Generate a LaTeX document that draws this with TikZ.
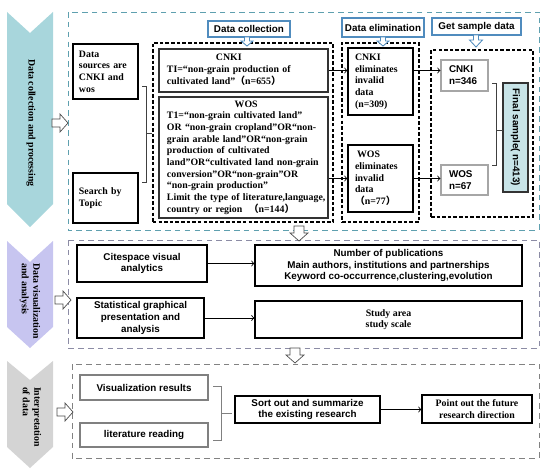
\documentclass[tikz,border=0pt]{standalone}
\usepackage{fontspec}
\setmainfont{Liberation Serif}
\setsansfont{Liberation Sans}
\newfontfamily\cjk{Noto Sans CJK SC}
\usepackage{tikz}
\definecolor{chevteal}{RGB}{168,214,220}
\definecolor{chevlav}{RGB}{199,197,240}
\definecolor{chevgray}{RGB}{212,212,212}
\definecolor{panteal}{RGB}{95,160,175}
\definecolor{panlav}{RGB}{140,140,165}
\definecolor{pangray}{RGB}{130,130,130}
\definecolor{hdblue}{RGB}{80,140,190}
\definecolor{finfill}{RGB}{200,228,232}
\tikzset{
    box/.style={draw, line width=0.8pt, inner sep=0pt, align=center,
        font=\sffamily\bfseries\fontsize{7}{8.4}\selectfont},
    sbox/.style={box, font=\bfseries\fontsize{7}{8.3}\selectfont},
    grp/.style={draw, line width=0.9pt, dash pattern=on 2.5pt off 1.5pt},
    hdbox/.style={draw=hdblue, line width=0.8pt, inner sep=0pt,
        font=\sffamily\bfseries\fontsize{7}{8.4}\selectfont},
    hollow/.style={draw=black!70, fill=white, line width=0.5pt},
    hdarrow/.style={draw=hdblue, fill=white, line width=0.6pt},
    link/.style={->, line width=0.6pt},
    brace/.style={line width=0.6pt, draw=black!75},
    stage/.style={rotate=-90, align=left, font=\bfseries\fontsize{7}{8.3}\selectfont},
}

\begin{document}
\begin{tikzpicture}[x=0.025cm, y=-0.025cm]
    \useasboundingbox (0,0) rectangle (550,472);
    % chevrons on the left
    \fill[chevteal] (7,12) -- (30,33) -- (53,12) -- (53,204) -- (30,227) -- (7,204) -- cycle;
    \fill[chevlav] (7,241) -- (30,262) -- (53,241) -- (53,327) -- (30,348) -- (7,327) -- cycle;
    \fill[chevgray] (7,361) -- (30,380) -- (53,361) -- (53,447) -- (30,468) -- (7,447) -- cycle;
    \node[stage] (stg1) at (31,123) {Data collection and processing};
    \node[stage] (stg2) at (30,301) {Data visualization\\and analysis};
    \node[stage] (stg3) at (32,417) {Interpretation\\of data};

    % panels
    \draw[panteal, line width=0.7pt, dash pattern=on 4pt off 3pt] (68,12) rectangle (539,230);
    \draw[panlav, line width=0.7pt, dash pattern=on 4pt off 3pt] (68,240) rectangle (539,348);
    \draw[pangray, line width=0.7pt, dash pattern=on 4pt off 3pt] (72,364) rectangle (539,458);

    % data collection and processing
    \node[sbox, align=left, minimum width=1.625cm, minimum height=1.375cm, text width=1.325cm,
        inner xsep=0.15cm] (src) at (105.5,71.5) {Data\\sources are\\CNKI and\\wos};
    \node[sbox, align=left, minimum width=1.625cm, minimum height=1.25cm, text width=1.325cm,
        inner xsep=0.15cm] (topic) at (105.5,198) {Search by\\Topic};
    \draw[brace] (142,86) -- (146,86) -- (146,182) -- (142,182) (146,133) -- (152,133);

    \node[grp, minimum width=4.5cm, minimum height=4.475cm] (colgrp) at (243,132.5) {};
    \node[sbox, draw=black!80, line width=1.1pt, align=left, minimum width=4.225cm,
        minimum height=1.075cm, text width=3.825cm, inner xsep=0.2cm] (cnki) at (243.5,70.5)
        {\begin{tabular}{@{}l@{}}\multicolumn{1}{@{}c@{}}{CNKI}\\
        TI=“non-grain production of\\
        cultivated land”{\cjk （}n=655{\cjk ）}\end{tabular}};
    \node[sbox, draw=black!80, line width=1.1pt, align=left, minimum width=4.225cm,
        minimum height=3.025cm, text width=3.825cm, inner xsep=0.2cm] (wos) at (243.5,157.5)
        {\begin{tabular}{@{}l@{}}\multicolumn{1}{@{}c@{}}{WOS}\\
        T1=“non-grain cultivated land”\\
        OR “non-grain cropland”OR“non-\\
        grain arable land”OR“non-grain\\
        production of cultivated\\
        land”OR“cultivated land non-grain\\
        conversion”OR“non-grain”OR\\
        “non-grain production”\\
        Limit the type of literature,language,\\
        country or region\ \ {\cjk （}n=144{\cjk ）}\end{tabular}};

    \node[grp, minimum width=1.925cm, minimum height=4.475cm] (elimgrp) at (380.5,132.5) {};
    \node[sbox, align=left, minimum width=1.625cm, minimum height=1.675cm, text width=1.275cm,
        inner xsep=0.175cm] (elimC) at (380.5,81.5) {CNKI\\eliminates\\invalid\\data\\(n=309)};
    \node[sbox, align=left, minimum width=1.625cm, minimum height=1.675cm, text width=1.275cm,
        inner xsep=0.175cm] (elimW) at (380.5,178.5)
        {\hspace{1.5pt}WOS\\eliminates\\invalid\\data\\{\cjk （}n=77{\cjk ）}};

    \node[grp, minimum width=2.55cm, minimum height=4.175cm] (sampgrp) at (482,133.5) {};
    \node[box, draw=black!35, align=left, minimum width=1.175cm, minimum height=0.775cm,
        text width=0.775cm, inner xsep=0.2cm] (sampC) at (464.5,75.5) {CNKI\\n=346};
    \node[box, draw=black!35, align=left, minimum width=1.175cm, minimum height=0.75cm,
        text width=0.775cm, inner xsep=0.2cm] (sampW) at (464.5,180) {WOS\\n=67};
    \node[box, fill=finfill, draw=black!80, rotate=-90, minimum width=2.725cm,
        minimum height=0.625cm] (final) at (515.5,137.5) {Final sample( n=413)};
    \draw[brace] (492,83) -- (496,83) -- (496,165) -- (492,165) (496,130) -- (503,130);

    \draw[link] (cnki.east) -- (cnki.east -| elimC.west);
    \draw[link] (cnki.east -| elimC.east) -- (cnki.east -| sampC.west);
    \draw[link] (elimW.west -| wos.east) -- (elimW.west);
    \draw[link] (elimW.east) -- (elimW.east -| sampW.west);

    % headers
    \node[hdbox, minimum width=2.05cm, minimum height=0.4cm] (hdcol) at (249,29) {Data collection};
    \node[hdbox, minimum width=2.05cm, minimum height=0.475cm] (hdelim) at (383,27.5) {Data elimination};
    \node[hdbox, minimum width=2.225cm, minimum height=0.425cm] (hdsamp) at (476.5,26.5) {Get sample data};
    \draw[hdarrow] (247,37) ++(-2.5,0) -- ++(0,4) -- ++(-3.5,0) -- ++(6,5) -- ++(6,-5) -- ++(-3.5,0) -- ++(0,-4) -- cycle;
    \draw[hdarrow] (383,37) ++(-2.5,0) -- ++(0,4) -- ++(-3.5,0) -- ++(6,5) -- ++(6,-5) -- ++(-3.5,0) -- ++(0,-4) -- cycle;
    \draw[hdarrow] (476,35) ++(-2.5,0) -- ++(0,5) -- ++(-4,0) -- ++(6.5,7) -- ++(6.5,-7) -- ++(-4,0) -- ++(0,-5) -- cycle;

    % data visualization and analysis
    \node[box, minimum width=3.25cm, minimum height=0.925cm] (cite) at (142,263.5) {Citespace visual\\analytics};
    \node[box, minimum width=3.175cm, minimum height=1cm] (stat) at (140.5,318)
        {Statistical graphical\\presentation and\\analysis};
    \node[box, minimum width=6.675cm, minimum height=1.025cm] (pubs) at (388.5,265.5)
        {Number of publications\\Main authors, institutions and partnerships\\Keyword co-occurrence,clustering,evolution};
    \node[sbox, minimum width=6.675cm, minimum height=0.925cm] (area) at (388.5,319.5) {Study area\\study scale};
    \draw[link] (cite.east) -- (cite.east -| pubs.west);
    \draw[link] (stat.east) -- (stat.east -| area.west);

    % interpretation of data
    \node[box, draw=black!50, minimum width=3.2cm, minimum height=0.625cm] (vis) at (144,387.5) {Visualization results};
    \node[box, draw=black!50, minimum width=3.2cm, minimum height=0.6cm] (lit) at (144,435) {literature reading};
    \draw[brace, draw=black!50] (213,386) -- (221,386) -- (221,440) -- (213,440) (221,413) -- (232,413);
    \node[box, minimum width=3.625cm, minimum height=0.675cm] (sort) at (307.5,409.5)
        {Sort out and summarize\\the existing research};
    \node[sbox, minimum width=2.75cm, minimum height=0.7cm] (point) at (477,409)
        {Point out the future\\research direction};
    \draw[link] (sort.east) -- (sort.east -| point.west);

    % hollow arrows between parts
    \draw[hollow] (52,123) ++(0,-4) -- ++(8,0) -- ++(0,-5) -- ++(8,9) -- ++(-8,9) -- ++(0,-5) -- ++(-8,0) -- cycle;
    \draw[hollow] (55,300) ++(0,-4) -- ++(8,0) -- ++(0,-5) -- ++(8,9) -- ++(-8,9) -- ++(0,-5) -- ++(-8,0) -- cycle;
    \draw[hollow] (57,412) ++(0,-4) -- ++(8,0) -- ++(0,-5) -- ++(8,9) -- ++(-8,9) -- ++(0,-5) -- ++(-8,0) -- cycle;
    \draw[hollow] (299,226) ++(-5,0) -- ++(0,7) -- ++(-4,0) -- ++(9,8) -- ++(9,-8) -- ++(-4,0) -- ++(0,-7) -- cycle;
    \draw[hollow] (295,348) ++(-5,0) -- ++(0,7) -- ++(-4,0) -- ++(9,8) -- ++(9,-8) -- ++(-4,0) -- ++(0,-7) -- cycle;
\end{tikzpicture}
\end{document}
